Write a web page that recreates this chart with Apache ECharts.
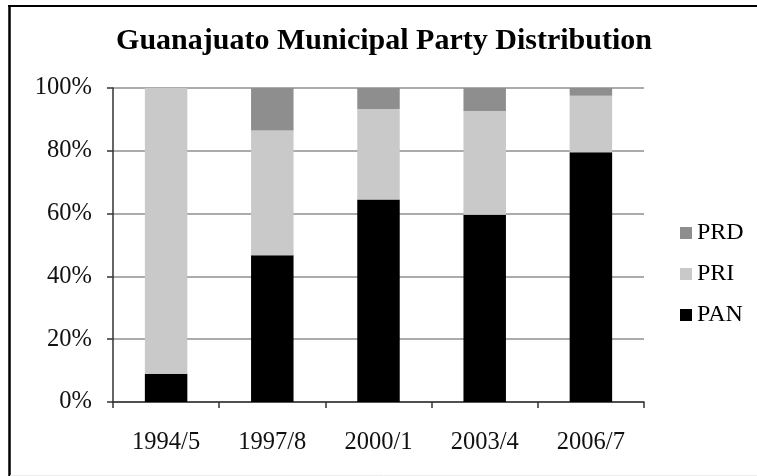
<!DOCTYPE html>
<html>
<head>
<meta charset="utf-8">
<script src="https://cdn.jsdelivr.net/npm/echarts@6/dist/echarts.min.js"></script>
<style>
html,body{margin:0;padding:0;background:#fff;}
#chart{width:757px;height:476px;}
</style>
</head>
<body>
<div id="chart"></div>
<script>
var categories = ['1994/5', '1997/8', '2000/1', '2003/4', '2006/7'];
var panValues = [9.0, 46.7, 64.5, 59.6, 79.5];
var priValues = [91.0, 39.8, 28.8, 33.1, 18.0];
var prdValues = [0.0, 13.5, 6.7, 7.3, 2.5];
var seriesNames = ['PAN', 'PRI', 'PRD'];
var legendOrder = ['PRD', 'PRI', 'PAN'];
var titleText = 'Guanajuato Municipal Party Distribution';

var FONT = '"Liberation Serif", "Times New Roman", serif';
var chart = echarts.init(document.getElementById('chart'), null, {renderer: 'canvas'});

function barSeries(name, data, color) {
  return {
    name: name,
    type: 'bar',
    stack: 'total',
    data: data,
    barCategoryGap: '60%',
    itemStyle: {color: color},
    emphasis: {disabled: true}
  };
}

chart.setOption({
  animation: false,
  backgroundColor: '#ffffff',
  title: {
    text: titleText,
    left: 384,
    top: 26,
    padding: 0,
    textAlign: 'center',
    textStyle: {fontFamily: FONT, fontSize: 30, fontWeight: 'bold', color: '#000'}
  },
  legend: {
    data: legendOrder,
    orient: 'vertical',
    left: 680,
    top: 221,
    padding: 0,
    itemWidth: 12,
    itemHeight: 12,
    itemGap: 17,
    icon: 'rect',
    textStyle: {fontFamily: FONT, fontSize: 24, color: '#000'}
  },
  grid: {left: 113, right: 113, top: 88, bottom: 74, containLabel: false},
  xAxis: {
    type: 'category',
    data: categories,
    axisLine: {lineStyle: {color: '#333', width: 1.5}},
    axisTick: {show: true, length: 6, inside: false, lineStyle: {color: '#333', width: 1.5}},
    axisLabel: {fontFamily: FONT, fontSize: 24.5, color: '#111', margin: 28}
  },
  yAxis: {
    type: 'value',
    min: 0,
    max: 100,
    interval: 20,
    axisLine: {show: true, lineStyle: {color: '#333', width: 1.5}},
    axisTick: {show: true, length: 6, lineStyle: {color: '#333', width: 1.5}},
    axisLabel: {fontFamily: FONT, fontSize: 24.5, color: '#111', margin: 21, formatter: '{value}%'},
    splitLine: {show: true, lineStyle: {color: '#8f8f8f', width: 1.5}}
  },
  series: [
    barSeries(seriesNames[0], panValues, '#000000'),
    barSeries(seriesNames[1], priValues, '#c9c9c9'),
    barSeries(seriesNames[2], prdValues, '#8e8e8e')
  ],
  graphic: [
    {type: 'line', shape: {x1: 8, y1: 6, x2: 757, y2: 6}, style: {stroke: '#000', lineWidth: 2}, silent: true},
    {type: 'line', shape: {x1: 9.5, y1: 5, x2: 9.5, y2: 476}, style: {stroke: '#000', lineWidth: 2.5}, silent: true},
    {type: 'line', shape: {x1: 10, y1: 475.5, x2: 757, y2: 475.5}, style: {stroke: '#ececec', lineWidth: 1}, silent: true}
  ]
});
</script>
</body>
</html>
